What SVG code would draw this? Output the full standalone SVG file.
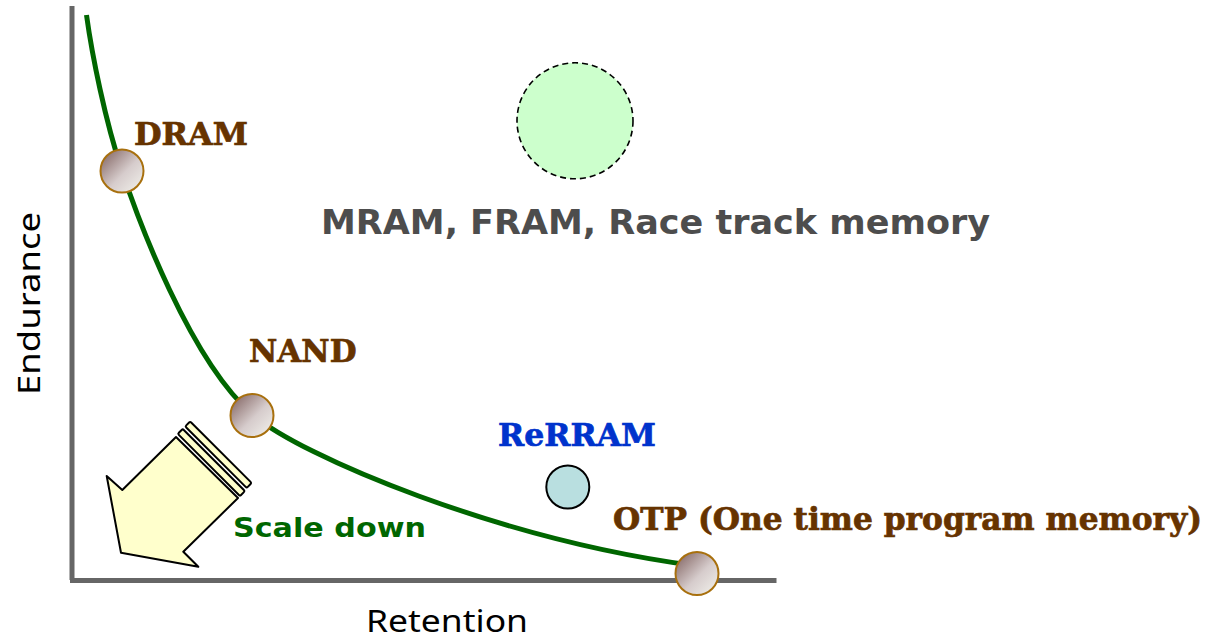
<svg xmlns="http://www.w3.org/2000/svg" width="1208" height="640" viewBox="0 0 1208 640">
<defs>
<linearGradient id="ball" x1="0" y1="0" x2="1" y2="1">
<stop offset="0" stop-color="#7a5a58"/>
<stop offset="0.55" stop-color="#d6cccc"/>
<stop offset="1" stop-color="#f4f4ee"/>
</linearGradient>
<style>
.axis{stroke:#666;stroke-width:5;fill:none}
.curve{stroke:#006600;stroke-width:5;fill:none}
.ball{fill:url(#ball);stroke:#a8700e;stroke-width:2}
.slab{font-family:"DejaVu Serif",serif;font-weight:bold;font-size:31px;stroke-width:0.7px}
.brown{fill:#663300;stroke:#663300}
.sans{font-family:"DejaVu Sans",sans-serif;font-weight:bold}
.ax{font-family:"Noto Sans","Open Sans",sans-serif;font-size:31px;fill:#000}
.arrow{fill:#ffffcc;stroke:#000;stroke-width:2;stroke-linejoin:round}
</style>
</defs>
<rect width="1208" height="640" fill="#fff"/>
<g id="axes">
<line class="axis" x1="72" y1="6" x2="72" y2="580"/>
<line class="axis" x1="70" y1="580.5" x2="776.5" y2="580.5"/>
<text class="ax" transform="translate(40,395) rotate(-90)" textLength="183" lengthAdjust="spacingAndGlyphs">Endurance</text>
<text class="ax" x="366" y="632" textLength="162" lengthAdjust="spacingAndGlyphs">Retention</text>
</g>
<g id="connectors">
<path class="curve" d="M86.5,15 C92,55 105,120 122,171 C138,219 190,360 252,414 C300,456 500,540 697,566"/>
</g>
<g id="scale-down">
<polygon class="arrow" points="176,437 122.3,490 106.7,476 121,552.7 198.3,566.7 183.3,551.7 238,498"/>
<g transform="translate(176,437) rotate(45)">
<rect class="arrow" x="-1" y="-10.5" width="88" height="7" rx="1.5"/>
<rect class="arrow" x="-1" y="-21" width="87" height="7" rx="1.5"/>
</g>
<text class="sans" x="233" y="537" font-size="26" fill="#006600" textLength="193" lengthAdjust="spacingAndGlyphs">Scale down</text>
</g>
<g id="dram">
<circle class="ball" cx="122" cy="171" r="21.5"/>
<text class="slab brown" x="134" y="145" textLength="114" lengthAdjust="spacingAndGlyphs">DRAM</text>
</g>
<g id="nand">
<circle class="ball" cx="252" cy="415.5" r="21.5"/>
<text class="slab brown" x="249" y="362" textLength="107.5" lengthAdjust="spacingAndGlyphs">NAND</text>
</g>
<g id="otp">
<circle class="ball" cx="697" cy="573.5" r="21.5"/>
<text class="slab brown" x="613" y="529.5" textLength="589" lengthAdjust="spacingAndGlyphs">OTP (One time program memory)</text>
</g>
<g id="rerram">
<circle cx="567.8" cy="487" r="21.5" fill="#b9dfe0" stroke="#000" stroke-width="2"/>
<text class="slab" x="498" y="445.5" fill="#0033cc" stroke="#0033cc" textLength="158" lengthAdjust="spacingAndGlyphs">ReRRAM</text>
</g>
<g id="mram">
<circle cx="575" cy="120.8" r="58" fill="#ccffcc" stroke="#000" stroke-width="1.6" stroke-dasharray="6,4"/>
<text class="sans" x="321" y="234" font-size="34" fill="#4d4d4d" textLength="669" lengthAdjust="spacingAndGlyphs">MRAM, FRAM, Race track memory</text>
</g>
</svg>
